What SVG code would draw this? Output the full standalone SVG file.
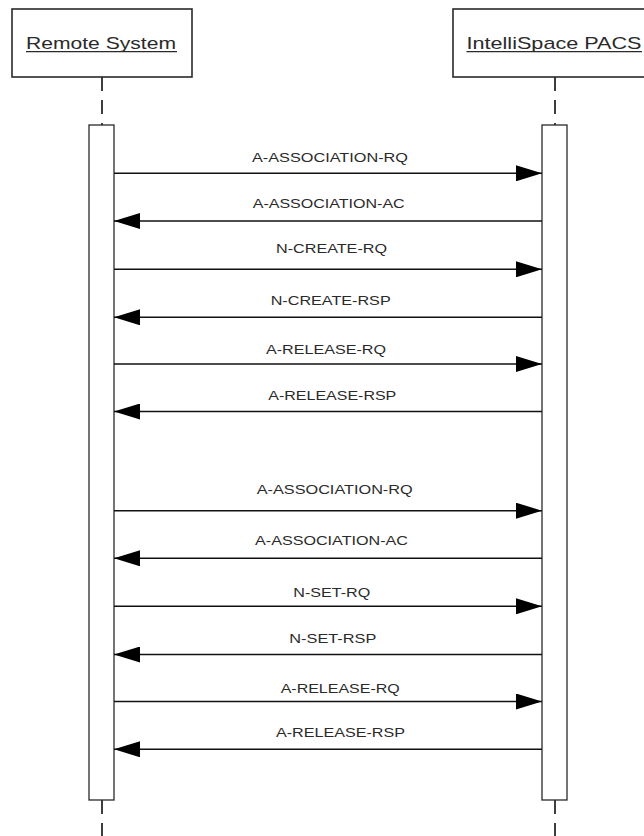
<svg xmlns="http://www.w3.org/2000/svg" width="644" height="836" viewBox="0 0 644 836">
<style>
.bg{fill:#ffffff}
.head{fill:#ffffff;stroke:#2a2a2a;stroke-width:1.6}
.title{font-family:"Liberation Sans",Arial,sans-serif;font-size:17px;fill:#2a2a2a}
.uline{stroke:#2a2a2a;stroke-width:1.2}
.life{stroke:#2a2a2a;stroke-width:1.8;stroke-dasharray:14,9;fill:none}
.act{fill:#ffffff;stroke:#2a2a2a;stroke-width:1.3}
.msg{stroke:#111;stroke-width:1.5;fill:none}
.lbl{font-family:"Liberation Sans",Arial,sans-serif;font-size:13px;fill:#2a2a2a}
.head-tri{fill:#000}
</style>
<defs>
<marker id="ah" viewBox="0 0 26 16" refX="26" refY="8" markerWidth="26" markerHeight="16" markerUnits="userSpaceOnUse" orient="auto">
<path d="M0,0 L26,8 L0,16 Z" class="head-tri"/>
</marker>
</defs>
<rect class="bg" x="0" y="0" width="644" height="836"/>
<g id="remote-system">
<line class="life" x1="102" y1="77" x2="102" y2="125"/>
<line class="life" x1="102" y1="800" x2="102" y2="836"/>
<rect class="head" x="12" y="9" width="180" height="68"/>
<text class="title" x="26" y="49" textLength="150" lengthAdjust="spacingAndGlyphs">Remote System</text>
<line class="uline" x1="26" y1="51.6" x2="177" y2="51.6"/>
<rect class="act" x="89" y="125" width="25" height="675"/>
</g>
<g id="intellispace-pacs">
<line class="life" x1="555" y1="77" x2="555" y2="125"/>
<line class="life" x1="555" y1="800" x2="555" y2="836"/>
<rect class="head" x="453" y="9" width="204" height="68"/>
<text class="title" x="466.5" y="49" textLength="175" lengthAdjust="spacingAndGlyphs">IntelliSpace PACS</text>
<line class="uline" x1="466.5" y1="51.6" x2="642" y2="51.6"/>
<rect class="act" x="542" y="125" width="25" height="675"/>
</g>
<g id="connectors">
<line class="msg" x1="114" y1="173.3" x2="542" y2="173.3" marker-end="url(#ah)"/>
<line class="msg" x1="542" y1="221" x2="114" y2="221" marker-end="url(#ah)"/>
<line class="msg" x1="114" y1="269.3" x2="542" y2="269.3" marker-end="url(#ah)"/>
<line class="msg" x1="542" y1="317.3" x2="114" y2="317.3" marker-end="url(#ah)"/>
<line class="msg" x1="114" y1="364" x2="542" y2="364" marker-end="url(#ah)"/>
<line class="msg" x1="542" y1="411.5" x2="114" y2="411.5" marker-end="url(#ah)"/>
<line class="msg" x1="114" y1="510.7" x2="542" y2="510.7" marker-end="url(#ah)"/>
<line class="msg" x1="542" y1="558.3" x2="114" y2="558.3" marker-end="url(#ah)"/>
<line class="msg" x1="114" y1="606.3" x2="542" y2="606.3" marker-end="url(#ah)"/>
<line class="msg" x1="542" y1="654.5" x2="114" y2="654.5" marker-end="url(#ah)"/>
<line class="msg" x1="114" y1="701.5" x2="542" y2="701.5" marker-end="url(#ah)"/>
<line class="msg" x1="542" y1="749.3" x2="114" y2="749.3" marker-end="url(#ah)"/>
<text class="lbl" x="252" y="162" textLength="156" lengthAdjust="spacingAndGlyphs">A-ASSOCIATION-RQ</text>
<text class="lbl" x="252.7" y="207.7" textLength="152" lengthAdjust="spacingAndGlyphs">A-ASSOCIATION-AC</text>
<text class="lbl" x="276" y="253.3" textLength="111" lengthAdjust="spacingAndGlyphs">N-CREATE-RQ</text>
<text class="lbl" x="270.7" y="305.3" textLength="120" lengthAdjust="spacingAndGlyphs">N-CREATE-RSP</text>
<text class="lbl" x="266" y="354.3" textLength="120" lengthAdjust="spacingAndGlyphs">A-RELEASE-RQ</text>
<text class="lbl" x="268.3" y="400.3" textLength="128" lengthAdjust="spacingAndGlyphs">A-RELEASE-RSP</text>
<text class="lbl" x="256.7" y="494.3" textLength="156" lengthAdjust="spacingAndGlyphs">A-ASSOCIATION-RQ</text>
<text class="lbl" x="255" y="545.3" textLength="153" lengthAdjust="spacingAndGlyphs">A-ASSOCIATION-AC</text>
<text class="lbl" x="293.3" y="597" textLength="77" lengthAdjust="spacingAndGlyphs">N-SET-RQ</text>
<text class="lbl" x="289.3" y="643.3" textLength="87" lengthAdjust="spacingAndGlyphs">N-SET-RSP</text>
<text class="lbl" x="280.7" y="692.6" textLength="119" lengthAdjust="spacingAndGlyphs">A-RELEASE-RQ</text>
<text class="lbl" x="276" y="737" textLength="129" lengthAdjust="spacingAndGlyphs">A-RELEASE-RSP</text>
</g>
</svg>
